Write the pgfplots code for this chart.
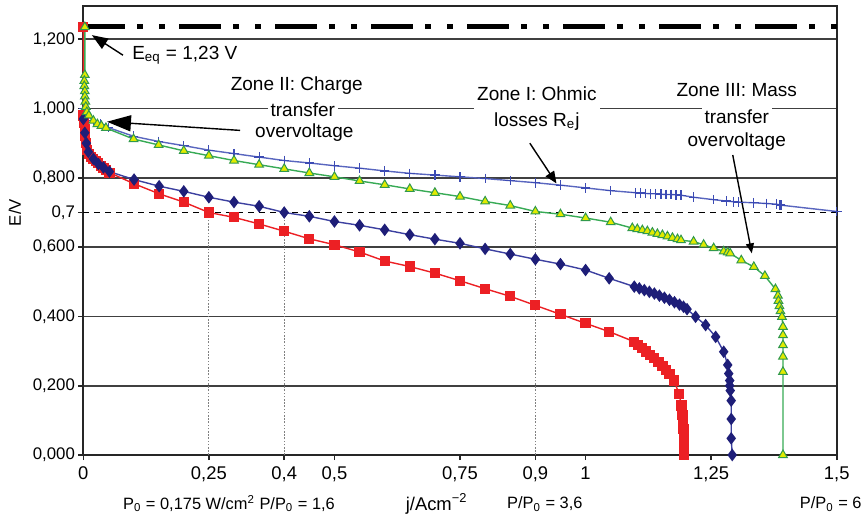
\documentclass[border=0pt]{standalone}
\usepackage{pgfplots}
\pgfplotsset{compat=1.18}
\usepackage{fontspec}
\setmainfont{Liberation Sans}
\usetikzlibrary{arrows.meta}
\definecolor{cred}{RGB}{236,32,36}
\definecolor{cnavy}{RGB}{30,30,120}
\definecolor{cnavyline}{RGB}{60,64,160}
\definecolor{cblue}{RGB}{60,75,180}
\definecolor{cgreen}{RGB}{55,170,85}
\definecolor{cyel}{RGB}{225,235,0}
\begin{document}
\begin{tikzpicture}
\begin{axis}[
 width=376.7pt, height=224.5pt, scale only axis,
 xmin=0, xmax=1.5, ymin=0, ymax=1.296,
 clip=false,
 axis line style={line width=1pt, black!85},
 xtick={0,0.25,0.4,0.5,0.75,0.9,1,1.25,1.5},
 xticklabels={0,{0,25},{0,4},{0,5},{0,75},{0,9},1,{1,25},{1,5}},
 ytick={0,0.2,0.4,0.6,0.8,1.0,1.2},
 yticklabels={{0,000},{0,200},{0,400},{0,600},{0,800},{1,000},{1,200}},
 extra y ticks={0.7}, extra y tick labels={0{,}7},
 extra y tick style={grid=none},
 ymajorgrids, major grid style={black!75, line width=0.9pt},
 tick align=outside, major tick length=2.5pt, tick style={black!85, line width=0.8pt},
 xtick pos=bottom, ytick pos=left,
 /pgf/number format/assume math mode=true,
 xticklabel style={font=\fontsize{9.2}{10}\selectfont},
 yticklabel style={font=\fontsize{8.4}{10}\selectfont, inner sep=1.5pt},
 xlabel={j/Acm\textsuperscript{−2}},
 xlabel style={at={(axis description cs:0.469,-0.109)}, anchor=center, font=\fontsize{9.2}{10}\selectfont},
 ylabel={E/V},
 ylabel style={at={(axis description cs:-0.0907,0.54)}, anchor=center, font=\fontsize{8.4}{10}\selectfont},
]
% reference lines
\addplot[black, line width=2.5pt, dash pattern=on 21pt off 6pt on 3pt off 8pt on 3pt off 7pt] coordinates {(0,1.237) (1.5,1.237)};
\addplot[black, line width=0.5pt, dash pattern=on 3pt off 2.5pt] coordinates {(0,0.7) (1.5,0.7)};
\addplot[gray, line width=0.45pt, dash pattern=on 0.8pt off 0.8pt] coordinates {(0.25,0) (0.25,0.7)};
\addplot[gray, line width=0.45pt, dash pattern=on 0.8pt off 0.8pt] coordinates {(0.4,0) (0.4,0.7)};
\addplot[gray, line width=0.45pt, dash pattern=on 0.8pt off 0.8pt] coordinates {(0.9,0) (0.9,0.7)};

% blue + series
\addplot[cblue!85, line width=0.7pt, mark=+, mark size=2.4pt, mark options={cblue, line width=0.6pt}] coordinates {
(0,1.0)(0.01,0.977)(0.02,0.965)(0.035,0.955)(0.05,0.945)(0.1,0.92)(0.15,0.905)(0.2,0.893)(0.25,0.88)(0.3,0.87)(0.35,0.86)(0.4,0.85)(0.45,0.843)(0.5,0.835)(0.55,0.828)(0.6,0.82)(0.65,0.813)(0.7,0.808)(0.75,0.803)(0.8,0.798)(0.85,0.792)(0.9,0.786)(0.95,0.779)(1.0,0.771)(1.05,0.763)(1.1,0.757)(1.11,0.756)(1.12,0.755)(1.13,0.754)(1.14,0.754)(1.15,0.753)(1.16,0.752)(1.17,0.752)(1.18,0.751)(1.19,0.75)(1.215,0.744)(1.255,0.737)(1.28,0.733)(1.295,0.731)(1.305,0.73)(1.335,0.728)(1.36,0.726)(1.38,0.724)(1.387,0.722)(1.39,0.721)(1.5,0.703)};

% red squares
\addplot[cred, line width=0.7pt, mark=square*, mark size=2.2pt, mark options={cred}] coordinates {
(0,1.235)(0,0.98)(0.002,0.96)(0.003,0.94)(0.004,0.92)(0.006,0.90)(0.008,0.88)(0.011,0.87)(0.015,0.86)(0.02,0.855)(0.025,0.848)(0.03,0.842)(0.035,0.835)(0.04,0.828)(0.045,0.822)(0.052,0.815)(0.101,0.783)(0.151,0.754)(0.2,0.730)(0.25,0.70)(0.3,0.686)(0.35,0.667)(0.4,0.646)(0.45,0.624)(0.5,0.607)(0.55,0.586)(0.6,0.56)(0.65,0.544)(0.7,0.525)(0.75,0.503)(0.8,0.48)(0.85,0.458)(0.9,0.432)(0.95,0.406)(1.0,0.38)(1.047,0.356)(1.097,0.327)(1.105,0.318)(1.113,0.309)(1.121,0.299)(1.129,0.289)(1.137,0.279)(1.145,0.268)(1.153,0.257)(1.16,0.246)(1.167,0.233)(1.176,0.215)(1.186,0.177)(1.191,0.143)(1.192,0.13)(1.193,0.115)(1.194,0.10)(1.194,0.085)(1.195,0.075)(1.196,0.056)(1.196,0.045)(1.196,0.035)(1.196,0.025)(1.196,0.015)(1.196,0.005)(1.196,0.0)};

% navy diamonds
\addplot[cnavyline, line width=0.7pt, mark=diamond*, mark size=2.6pt, mark options={cnavy}] coordinates {
(0,0.97)(0.003,0.93)(0.006,0.9)(0.01,0.875)(0.02,0.855)(0.03,0.84)(0.04,0.83)(0.052,0.818)(0.101,0.795)(0.151,0.776)(0.2,0.761)(0.25,0.744)(0.3,0.730)(0.35,0.718)(0.4,0.70)(0.45,0.689)(0.5,0.674)(0.55,0.663)(0.6,0.650)(0.65,0.636)(0.7,0.623)(0.75,0.611)(0.8,0.595)(0.85,0.58)(0.9,0.565)(0.95,0.551)(1.0,0.534)(1.047,0.51)(1.097,0.486)(1.107,0.481)(1.117,0.476)(1.127,0.471)(1.137,0.466)(1.147,0.460)(1.157,0.454)(1.167,0.448)(1.177,0.441)(1.187,0.434)(1.195,0.428)(1.202,0.421)(1.219,0.399)(1.239,0.375)(1.259,0.341)(1.275,0.298)(1.283,0.26)(1.285,0.235)(1.287,0.215)(1.287,0.2)(1.288,0.186)(1.29,0.157)(1.29,0.104)(1.29,0.048)(1.292,0.0)};

% green triangles
\addplot[cgreen, line width=0.7pt, mark=triangle*, mark size=2.5pt, mark options={fill=cyel, draw=cgreen!90!black, line width=0.5pt}] coordinates {
(0.003,1.235)(0.003,1.097)(0.002,1.08)(0.002,1.065)(0.003,1.05)(0.003,1.035)(0.004,1.02)(0.005,1.005)(0.007,0.99)(0.011,0.98)(0.02,0.965)(0.028,0.955)(0.036,0.95)(0.045,0.944)(0.1,0.912)(0.15,0.895)(0.2,0.878)(0.25,0.864)(0.3,0.85)(0.35,0.838)(0.4,0.826)(0.45,0.814)(0.5,0.803)(0.55,0.791)(0.6,0.78)(0.65,0.768)(0.7,0.757)(0.75,0.746)(0.8,0.732)(0.85,0.72)(0.9,0.703)(0.95,0.695)(1.0,0.684)(1.05,0.672)(1.093,0.655)(1.103,0.652)(1.113,0.649)(1.123,0.646)(1.133,0.642)(1.143,0.638)(1.153,0.635)(1.163,0.631)(1.173,0.627)(1.183,0.623)(1.19,0.62)(1.215,0.616)(1.235,0.607)(1.255,0.597)(1.275,0.588)(1.283,0.585)(1.288,0.582)(1.31,0.562)(1.335,0.543)(1.357,0.517)(1.378,0.479)(1.383,0.46)(1.384,0.445)(1.386,0.43)(1.388,0.415)(1.391,0.399)(1.393,0.37)(1.393,0.346)(1.393,0.317)(1.393,0.284)(1.393,0.24)(1.393,0.0)};

% annotations
\tikzset{ann/.style={font=\fontsize{9.5}{13.3}\selectfont, fill=white, inner sep=1.5pt, align=center}}
\node[ann] at (axis cs:0.425,1.065) {Zone II: Charge};
\node[ann] at (axis cs:0.437,0.996) {transfer};
\node[ann] at (axis cs:0.440,0.932) {overvoltage};
\draw[black, line width=0.7pt, -{Triangle[length=12pt,width=8pt]}] (axis cs:0.312,0.937) -- (axis cs:0.047,0.962);

\node[ann] at (axis cs:0.903,1.0) {Zone I: Ohmic\\losses R\textsubscript{e}j};
\draw[black, line width=0.7pt, -{Triangle[length=6pt,width=5pt]}] (axis cs:0.889,0.900) -- (axis cs:0.942,0.784);

\node[ann] at (axis cs:1.301,1.053) {Zone III: Mass};
\node[ann] at (axis cs:1.301,0.976) {transfer};
\node[ann] at (axis cs:1.301,0.904) {overvoltage};
\draw[black, line width=0.7pt, -{Triangle[length=5pt,width=4pt]}] (axis cs:1.293,0.866) -- (axis cs:1.331,0.582);

\node[ann, fill=none] at (axis cs:0.202,1.154) {E\textsubscript{eq} = 1,23 V};
\draw[black, line width=0.7pt, -{Triangle[length=8pt,width=6pt]}] (axis cs:0.079,1.154) -- (axis cs:0.017,1.212);

% bottom row texts
\node[font=\fontsize{8.2}{10}\selectfont] at (axis cs:0.29,-0.141) {P\textsubscript{0} = 0,175 W/cm\textsuperscript{2} P/P\textsubscript{0} = 1,6};
\node[font=\fontsize{8.2}{10}\selectfont] at (axis cs:0.919,-0.141) {P/P\textsubscript{0} = 3,6};
\node[font=\fontsize{8.2}{10}\selectfont, anchor=west, inner sep=0pt] at (axis cs:1.426,-0.141) {P/P\textsubscript{0} = 6};

\coordinate (bbSW) at (rel axis cs:-0.1106,-0.1492);
\coordinate (bbNE) at (rel axis cs:1.0389,1.0134);
\end{axis}
\pgfresetboundingbox
\useasboundingbox (bbSW) rectangle (bbNE);
\end{tikzpicture}
\end{document}
